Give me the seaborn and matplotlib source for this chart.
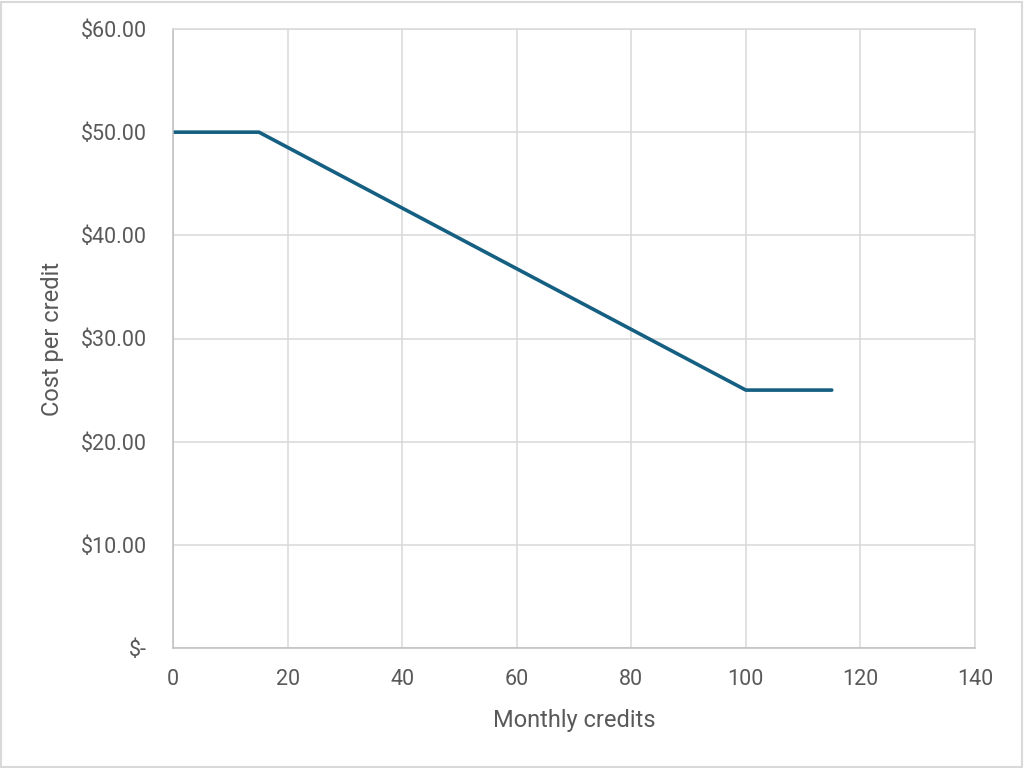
import matplotlib
matplotlib.use("Agg")
import matplotlib.pyplot as plt
import seaborn as sns
import pandas as pd
from matplotlib.ticker import FuncFormatter, MultipleLocator
from matplotlib.patches import Rectangle

credits = [0, 15, 100, 115]
cost = [50, 50, 25, 25]

df = pd.DataFrame({"Monthly credits": credits, "Cost per credit": cost})

sns.set_theme(style="white")
plt.rcParams['font.family'] = ['Roboto', 'DejaVu Sans']

fig = plt.figure(figsize=(10.24, 7.68), dpi=100)
ax = fig.add_axes([173/1024, 120/768, (975-173)/1024, (648-29)/768])

sns.lineplot(data=df, x="Monthly credits", y="Cost per credit", ax=ax,
             color="#156082", linewidth=2.6, solid_capstyle="round", estimator=None, sort=False)

ax.set_xlim(0, 140)
ax.set_ylim(0, 60)
ax.xaxis.set_major_locator(MultipleLocator(20))
ax.yaxis.set_major_locator(MultipleLocator(10))
ax.yaxis.set_major_formatter(FuncFormatter(lambda v, p: "$-" if v == 0 else f"${v:,.2f}"))
ax.grid(True, color="#d9d9d9", linewidth=1.1)
ax.set_axisbelow(True)
for s in ["top", "right"]:
    ax.spines[s].set_color("#d9d9d9")
    ax.spines[s].set_linewidth(1.1)
for s in ["left", "bottom"]:
    ax.spines[s].set_color("#bfbfbf")
    ax.spines[s].set_linewidth(1.1)
ax.tick_params(axis="both", length=0, labelsize=15.5, labelcolor="#595959")
ax.tick_params(axis="x", pad=15)
ax.tick_params(axis="y", pad=19)
ax.set_xlabel("Monthly credits", fontsize=17, color="#595959", labelpad=14)
ax.set_ylabel("Cost per credit", fontsize=17, color="#595959", labelpad=12)

fig.patches.append(Rectangle((0.001, 0.001), 0.997, 0.997, transform=fig.transFigure,
                             fill=False, edgecolor="#d9d9d9", linewidth=1.5))

fig.savefig("out.png", dpi=100)
